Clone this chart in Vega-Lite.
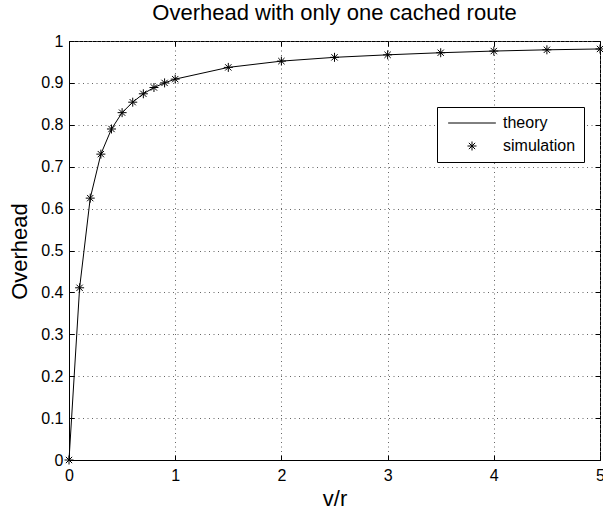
{
  "$schema": "https://vega.github.io/schema/vega-lite/v6.json",
  "width": 531,
  "height": 419,
  "autosize": {"type": "none"},
  "padding": {"left": 69, "top": 41, "right": 3, "bottom": 53},
  "title": {
    "text": "Overhead with only one cached route",
    "fontSize": 22,
    "font": "Liberation Sans",
    "fontWeight": "normal",
    "color": "black",
    "anchor": "middle",
    "frame": "group",
    "offset": 8
  },
  "data": {
    "values": [
      {"vr": 0, "overhead": 0},
      {"vr": 0.1, "overhead": 0.411},
      {"vr": 0.2, "overhead": 0.625},
      {"vr": 0.3, "overhead": 0.73},
      {"vr": 0.4, "overhead": 0.79},
      {"vr": 0.5, "overhead": 0.829},
      {"vr": 0.6, "overhead": 0.854},
      {"vr": 0.7, "overhead": 0.874},
      {"vr": 0.8, "overhead": 0.889},
      {"vr": 0.9, "overhead": 0.9},
      {"vr": 1.0, "overhead": 0.909},
      {"vr": 1.5, "overhead": 0.937},
      {"vr": 2, "overhead": 0.952},
      {"vr": 2.5, "overhead": 0.961},
      {"vr": 3, "overhead": 0.967},
      {"vr": 3.5, "overhead": 0.972},
      {"vr": 4, "overhead": 0.976},
      {"vr": 4.5, "overhead": 0.979},
      {"vr": 5, "overhead": 0.981}
    ]
  },
  "config": {
    "font": "Liberation Sans",
    "view": {"stroke": "black", "strokeWidth": 1},
    "axis": {
      "domainColor": "black",
      "tickColor": "black",
      "labelColor": "black",
      "titleColor": "black",
      "labelFont": "Liberation Sans",
      "titleFont": "Liberation Sans",
      "labelFontSize": 16,
      "labelFlush": false,
      "titleFontSize": 22,
      "titleFontWeight": "normal",
      "gridColor": "#666",
      "gridDash": [1, 3.5],
      "gridWidth": 1,
      "gridOpacity": 1
    }
  },
  "resolve": {"axis": {"x": "independent", "y": "independent"}},
  "layer": [
    {
      "mark": {"type": "line", "color": "black", "strokeWidth": 1},
      "encoding": {
        "x": {
          "field": "vr",
          "type": "quantitative",
          "scale": {"domain": [0, 5], "nice": false, "zero": false},
          "axis": {
            "orient": "bottom",
            "values": [0, 1, 2, 3, 4, 5],
            "format": "~g",
            "grid": true,
            "tickSize": -5,
            "labelPadding": 12,
            "title": "v/r",
            "titleY": 45,
            "titleBaseline": "alphabetic"
          }
        },
        "y": {
          "field": "overhead",
          "type": "quantitative",
          "scale": {"domain": [0, 1], "nice": false, "zero": false},
          "axis": {
            "orient": "left",
            "values": [0, 0.1, 0.2, 0.3, 0.4, 0.5, 0.6, 0.7, 0.8, 0.9, 1],
            "format": "~g",
            "grid": true,
            "tickSize": -5,
            "labelPadding": 11,
            "title": "Overhead",
            "titleAngle": -90,
            "titleX": -43,
            "titleY": 210,
            "titleAlign": "center",
            "titleBaseline": "alphabetic"
          }
        },
        "color": {
          "datum": "theory",
          "scale": {"domain": ["theory", "simulation"], "range": ["black", "black"]},
          "legend": {
            "orient": "none",
            "legendX": 368,
            "legendY": 66,
            "title": null,
            "fillColor": "white",
            "strokeColor": "black",
            "padding": 8,
            "labelFontSize": 16,
            "labelColor": "black",
            "labelFont": "Liberation Sans",
            "symbolSize": 81,
            "symbolStrokeWidth": 1,
            "rowPadding": 7,
            "labelOffset": 42,
            "encode": {
              "symbols": {
                "update": {
                  "shape": {"signal": "datum.value === 'theory' ? 'M-5.3,0L5.3,0' : 'M-1,0L1,0M0,-1L0,1M-0.7,-0.7L0.7,0.7M-0.7,0.7L0.7,-0.7'"},
                  "x": {"value": 27},
                  "stroke": {"value": "black"},
                  "fill": {"value": "transparent"},
                  "strokeWidth": {"value": 1},
                  "size": {"value": 81},
                  "opacity": {"value": 1}
                }
              }
            }
          }
        }
      }
    },
    {
      "mark": {
        "type": "point",
        "shape": "M-1,0L1,0M0,-1L0,1M-0.7,-0.7L0.7,0.7M-0.7,0.7L0.7,-0.7",
        "filled": false,
        "size": 81,
        "strokeWidth": 1,
        "opacity": 1
      },
      "encoding": {
        "x": {
          "field": "vr",
          "type": "quantitative",
          "axis": {
            "orient": "top",
            "values": [0, 1, 2, 3, 4, 5],
            "labels": false,
            "grid": false,
            "domain": false,
            "tickSize": -5,
            "title": null
          }
        },
        "y": {
          "field": "overhead",
          "type": "quantitative",
          "axis": {
            "orient": "right",
            "values": [0, 0.1, 0.2, 0.3, 0.4, 0.5, 0.6, 0.7, 0.8, 0.9, 1],
            "labels": false,
            "grid": false,
            "domain": false,
            "tickSize": -5,
            "title": null
          }
        },
        "color": {"datum": "simulation"}
      }
    }
  ]
}
